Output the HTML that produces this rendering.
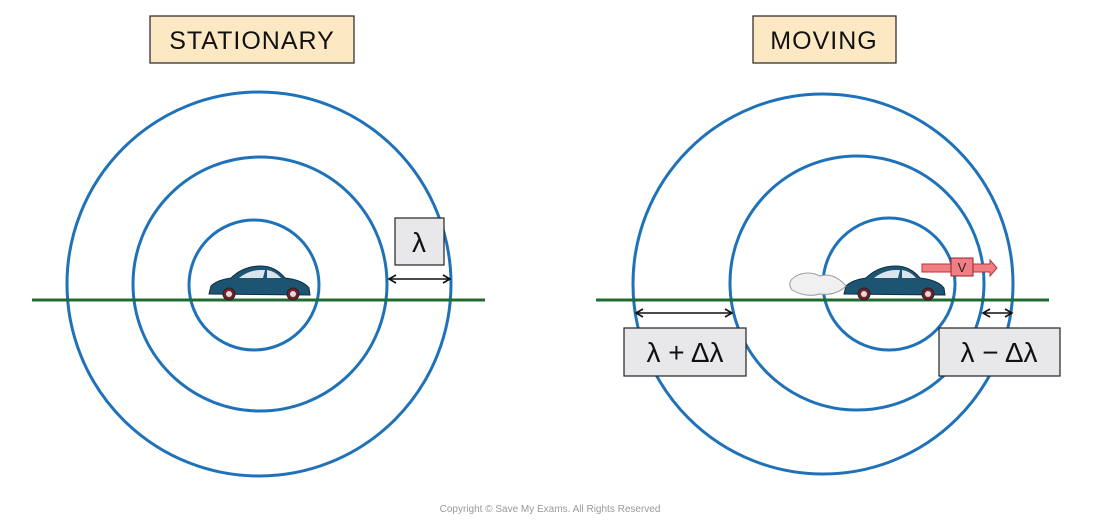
<!DOCTYPE html>
<html><head><style>
body{margin:0;background:#fff;}
svg{display:block;}
text{font-family:"Liberation Sans",sans-serif;}
</style></head><body>
<svg width="1100" height="526" viewBox="0 0 1100 526" xmlns="http://www.w3.org/2000/svg">
<defs>
<marker id="ah" markerWidth="10" markerHeight="10" refX="8" refY="5" orient="auto-start-reverse" markerUnits="userSpaceOnUse">
<path d="M1,1 L8,5 L1,9" fill="none" stroke="#111" stroke-width="1.6"/>
</marker>
<g id="car">
<path d="M0,28 L2,20 Q8,14 22,12 Q34,0 52,0 Q66,0 76,12 Q94,14 100,22 L101,29 Z" fill="#1d5472" stroke="#0e2e40" stroke-width="1"/>
<path d="M30,12 Q40,4 52,4 L56,4 L54,12 Z" fill="#d9e4ec"/>
<path d="M58,4 Q66,5 72,12 L58,12 Z" fill="#d9e4ec"/>
<circle cx="20" cy="28" r="6" fill="#7a1e2a" stroke="#222"/>
<circle cx="20" cy="28" r="3" fill="#ddd"/>
<circle cx="84" cy="28" r="6" fill="#7a1e2a" stroke="#222"/>
<circle cx="84" cy="28" r="3" fill="#ddd"/>
</g>
</defs>
<rect x="150" y="16" width="204" height="47" fill="#fde8c4" stroke="#222" stroke-width="1.2"/>
<text x="252" y="49" font-size="25" text-anchor="middle" fill="#111" letter-spacing="1">STATIONARY</text>
<rect x="753" y="16" width="143" height="47" fill="#fde8c4" stroke="#222" stroke-width="1.2"/>
<text x="824" y="49" font-size="25" text-anchor="middle" fill="#111" letter-spacing="1">MOVING</text>
<g fill="none" stroke="#1f72b8" stroke-width="3">
<circle cx="259" cy="284" r="192"/>
<circle cx="260" cy="284" r="127"/>
<circle cx="254" cy="285" r="65"/>
<circle cx="823" cy="284" r="190"/>
<circle cx="857" cy="283" r="127"/>
<circle cx="889" cy="284" r="66"/>
</g>
<line x1="32" y1="300" x2="485" y2="300" stroke="#1f6b32" stroke-width="3"/>
<line x1="596" y1="300" x2="1049" y2="300" stroke="#1f6b32" stroke-width="3"/>
<use href="#car" x="209" y="266"/>
<use href="#car" x="844" y="266"/>
<path d="M792,290 Q786,282 796,276 Q808,270 820,276 Q834,272 846,286 Q836,296 820,294 Q806,298 792,290Z" fill="#f0f0f0" stroke="#999" stroke-width="1"/>
<path d="M922,264 L990,264 L990,260 L997,268 L990,276 L990,272 L922,272Z" fill="#f07f85" stroke="#b33" stroke-width="1"/>
<rect x="951" y="258" width="22" height="18" fill="#f07f85" stroke="#922" stroke-width="1"/>
<text x="962" y="272" font-size="13" text-anchor="middle" fill="#222">V</text>
<rect x="395" y="218" width="49" height="47" fill="#e8e8ea" stroke="#222" stroke-width="1.2"/>
<text x="419" y="252" font-size="28" text-anchor="middle" fill="#111">λ</text>
<line x1="389" y1="279" x2="450" y2="279" stroke="#111" stroke-width="1.6" marker-start="url(#ah)" marker-end="url(#ah)"/>
<rect x="624" y="328" width="122" height="48" fill="#e8e8ea" stroke="#222" stroke-width="1.2"/>
<text x="685" y="362" font-size="28" text-anchor="middle" fill="#111">λ + Δλ</text>
<line x1="636" y1="313" x2="732" y2="313" stroke="#111" stroke-width="1.6" marker-start="url(#ah)" marker-end="url(#ah)"/>
<rect x="939" y="328" width="121" height="48" fill="#e8e8ea" stroke="#222" stroke-width="1.2"/>
<text x="999" y="362" font-size="28" text-anchor="middle" fill="#111">λ − Δλ</text>
<line x1="983" y1="313" x2="1012" y2="313" stroke="#111" stroke-width="1.6" marker-start="url(#ah)" marker-end="url(#ah)"/>
<text x="550" y="512" font-size="10" text-anchor="middle" fill="#999">Copyright © Save My Exams. All Rights Reserved</text>
</svg>
</body></html>
